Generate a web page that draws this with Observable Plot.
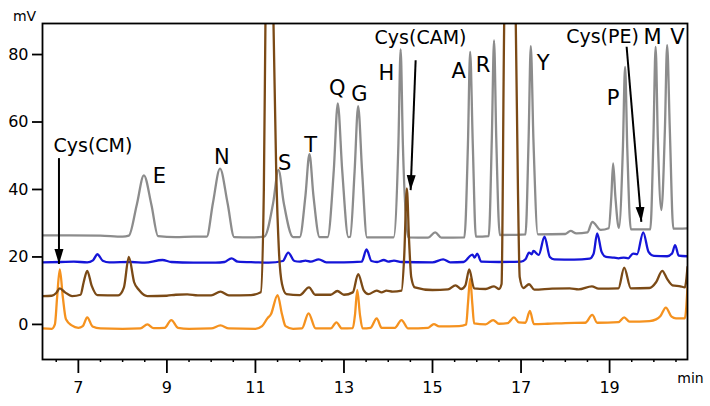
<!DOCTYPE html>
<html><head><meta charset="utf-8">
<script src="https://cdn.jsdelivr.net/npm/d3@7"></script>
<script src="https://cdn.jsdelivr.net/npm/@observablehq/plot@0.6"></script>
<style>body{margin:0;background:#fff}</style>
</head><body><div id="chart"></div>
<script>
// [time (min), signal (mV)]
const grayTrace = [
[6.19,26.4],[6.8,26.4],[7.5,26.3],[8.0,26.0],[8.14,26.3],[8.32,35.5],[8.48,44.2],[8.65,35.5],[8.8,26.2],
[9.2,25.9],[9.6,26.0],[9.9,26.0],[10.04,36.0],[10.2,46.2],[10.37,36.0],[10.52,25.9],[10.9,25.8],
[11.2,26.0],[11.4,36.0],[11.52,45.8],[11.64,36.0],[11.85,25.9],[12.0,25.9],[12.13,38.2],[12.22,50.5],
[12.31,38.2],[12.45,25.9],[12.63,25.9],[12.77,45.7],[12.86,65.5],[12.96,45.7],[13.1,25.9],[13.14,26.0],
[13.24,45.3],[13.32,64.7],[13.41,45.3],[13.52,25.8],[14.12,25.8],[14.23,53.7],[14.28,81.5],[14.33,53.7],
[14.45,25.8],[14.9,25.7],[15.06,27.3],[15.2,25.7],[15.72,25.8],[15.8,53.3],[15.85,80.8],[15.91,53.3],
[15.98,26.0],[16.27,26.2],[16.34,55.2],[16.39,84.2],[16.44,55.2],[16.52,26.5],[17.1,26.7],[17.17,54.6],
[17.22,82.5],[17.28,54.6],[17.38,26.7],[18.0,26.8],[18.12,27.7],[18.25,27.0],[18.5,27.3],[18.61,30.4],
[18.8,28.0],[18.98,28.5],[19.04,38],[19.08,47.7],[19.13,38],[19.21,28.6],[19.3,52],[19.35,76.3],[19.4,52],
[19.48,28.2],[19.92,28.2],[19.99,55],[20.04,82.3],[20.09,55],[20.17,33.9],[20.25,58],[20.3,82.8],[20.36,58],
[20.44,28.4],[20.76,28.5]
];
const blueTrace = [
[6.19,18.4],[6.6,18.5],[6.9,18.6],[7.2,18.4],[7.33,19.0],[7.43,20.8],[7.55,18.9],[7.7,18.4],[8.2,18.5],
[8.5,18.3],[8.9,19.1],[9.1,18.5],[9.6,18.3],[10.1,18.3],[10.3,18.5],[10.46,19.6],[10.6,18.6],[11.0,18.4],
[11.3,18.3],[11.62,18.8],[11.74,21.3],[11.88,18.8],[12.0,18.6],[12.13,18.9],[12.25,18.6],[12.43,19.3],
[12.6,18.4],[13.0,18.4],[13.4,18.6],[13.51,22.2],[13.62,18.8],[13.75,18.5],[13.9,19.1],[14.0,18.6],
[14.13,18.9],[14.3,18.5],[15.0,18.4],[15.24,19.3],[15.4,18.4],[15.7,18.5],[15.9,20.7],[15.95,19.8],
[16.01,21.0],[16.1,18.6],[16.5,18.5],[17.0,18.6],[17.1,19.3],[17.18,21.3],[17.24,20.8],[17.28,21.8],
[17.4,20.6],[17.53,26.0],[17.65,20.0],[17.75,19.3],[18.2,19.2],[18.55,19.5],[18.64,21],[18.72,27.0],
[18.82,21.5],[18.92,20.0],[19.1,19.8],[19.2,19.6],[19.32,19.8],[19.42,19.6],[19.53,21.0],[19.62,20.8],
[19.76,27.3],[19.88,21.5],[20.0,20.3],[20.3,20.2],[20.41,21],[20.48,23.5],[20.56,20.4],[20.76,20.2]
];
const brownTrace = [
[6.19,8.4],[6.4,8.5],[6.5,9.3],[6.58,10.7],[6.7,9.5],[6.86,8.4],[7.05,8.8],[7.12,12.5],[7.2,15.9],
[7.3,11.5],[7.43,8.7],[7.9,8.6],[8.03,11],[8.14,20.0],[8.26,12.5],[8.37,10.2],[8.56,8.4],[9.0,8.5],
[9.2,8.8],[9.46,8.9],[9.7,8.6],[10.0,8.6],[10.21,9.7],[10.4,8.6],[10.9,8.7],[11.12,9.5],[11.19,40],
[11.23,95],[11.31,140],[11.40,95],[11.47,45],[11.53,22],[11.6,12],[11.7,9],[12.0,8.7],[12.21,11.0],
[12.35,8.8],[12.7,8.8],[12.85,9.9],[13.0,8.8],[13.2,9.5],[13.32,14.9],[13.45,10.0],[13.55,9.0],
[13.74,10.0],[13.85,9.5],[13.96,10.0],[14.1,9.7],[14.3,10.0],[14.36,20],[14.42,40.3],[14.47,25],
[14.52,14],[14.6,11.0],[15.0,10.2],[15.35,10.4],[15.52,11.6],[15.65,10.5],[15.74,11.5],[15.83,16.3],
[15.94,10.7],[16.2,10.5],[16.39,11.3],[16.5,10.5],[16.56,12],[16.62,90],[16.74,140],[16.88,90],
[16.93,40],[16.97,14],[17.05,10.8],[17.18,11.9],[17.3,10.3],[17.7,10.6],[18.1,10.7],[18.3,10.4],
[18.6,11.3],[18.75,10.6],[19.2,10.7],[19.33,16.8],[19.48,10.7],[19.9,10.8],[20.05,12.5],[20.19,15.9],
[20.3,13.5],[20.42,11.6],[20.6,11.3],[20.7,11.0],[20.76,17]
];
const orangeTrace = [
[6.19,-1.2],[6.4,-1.3],[6.47,0],[6.52,8],[6.58,16.3],[6.65,8],[6.72,1.5],[6.85,-0.3],[7.0,-1.0],
[7.1,-0.5],[7.2,2.1],[7.32,-0.6],[7.5,-1.2],[8.0,-1.3],[8.4,-1.2],[8.56,0.0],[8.7,-1.1],[8.95,-1.0],
[9.1,1.3],[9.25,-1.0],[9.5,-1.3],[10.0,-1.2],[10.21,-0.3],[10.4,-1.2],[11.0,-1.3],[11.15,-0.5],
[11.27,1.8],[11.35,3],[11.5,8.7],[11.6,3],[11.68,-0.5],[11.85,-1.3],[12.05,-1.2],[12.2,3.3],[12.36,-1.2],
[12.7,-1.2],[12.83,0.6],[12.95,-1.2],[13.2,-1.1],[13.25,3],[13.3,10.2],[13.36,3],[13.42,-1.2],[13.6,-1.0],
[13.74,1.8],[13.85,-1.0],[14.15,-1.0],[14.3,1.3],[14.45,-1.2],[14.9,-1.0],[15.03,0.1],[15.15,-0.6],
[15.6,-0.5],[15.76,0],[15.8,6],[15.85,13.6],[15.9,6],[15.94,0.3],[16.2,0.0],[16.37,1.3],[16.5,0.2],
[16.7,0.4],[16.84,2.1],[16.95,0.6],[17.1,0.5],[17.2,4.0],[17.29,0.1],[17.6,0.2],[18.0,0.4],[18.45,0.5],
[18.61,2.8],[18.72,0.5],[19.2,0.7],[19.33,2.1],[19.45,0.8],[19.9,1.0],[20.05,1.5],[20.15,2.5],[20.27,5.0],
[20.4,2.3],[20.5,1.8],[20.7,1.8],[20.76,11]
];

const peakNames = ["E","N","S","T","Q","G","H","A","R","Y","P","M","V"];
const peakNameTime = [8.83,10.24,11.66,12.25,12.85,13.35,13.96,15.59,16.14,17.5,19.08,19.97,20.53];
const peakNameMv = [43.9,49.6,47.8,53.2,69.9,68.2,74.5,75.1,76.8,77.4,67.1,85.1,85.1];

const cysNames = ["Cys(CM)","Cys(CAM)","Cys(PE)"];
const cysTime = [7.33,14.73,18.84];
const cysMv = [52.8,84.8,85.1];
const arrowTime1 = [6.562,14.619,19.385];
const arrowMv1 = [49.3,78.3,82.3];
const arrowTime2 = [6.562,14.506,19.717];
const arrowMv2 = [17.9,39.8,30.4];

const majorTicksX = [7,9,11,13,15,17,19];
const minorTicksX = [6.5,7.5,8,8.5,9.5,10,10.5,11.5,12,12.5,13.5,14,14.5,15.5,16,16.5,17.5,18,18.5,19.5,20,20.5];
const ticksY = [0,20,40,60,80];

const idx = peakNames.map((_, i) => i);
const cidx = cysNames.map((_, i) => i);
const line = (data, color) => Plot.line(data, {x: d => d[0], y: d => d[1], stroke: color, strokeWidth: 2.3, curve: "monotone-x", clip: true});

const chart = Plot.plot({
  width: 710, height: 406,
  marginLeft: 42, marginRight: 23, marginTop: 23, marginBottom: 47,
  x: {domain: [6.19, 20.76]},
  y: {domain: [-10.4, 89.2]},
  style: {fontFamily: "'DejaVu Sans', sans-serif", fontSize: "16px", color: "black", background: "white"},
  marks: [
    line(grayTrace, "#8c8c8c"),
    line(blueTrace, "#1515d8"),
    line(orangeTrace, "#f5921f"),
    line(brownTrace, "#7b4a16"),
    Plot.frame({stroke: "black", strokeWidth: 1.8}),
    Plot.axisY({ticks: ticksY, tickSize: 10, tickPadding: 4, label: null, strokeWidth: 1.8}),
    Plot.axisX({ticks: majorTicksX, tickSize: 14, tickPadding: 8, label: null, strokeWidth: 1.8}),
    Plot.axisX({ticks: minorTicksX, tickSize: 3, tickFormat: () => "", label: null, strokeWidth: 1.5}),
    Plot.text(idx, {x: i => peakNameTime[i], y: i => peakNameMv[i], text: i => peakNames[i], fontSize: 21, fill: "black"}),
    Plot.text(cidx, {x: i => cysTime[i], y: i => cysMv[i], text: i => cysNames[i], fontSize: 19, fill: "black"}),
    Plot.link(cidx, {x1: i => arrowTime1[i], y1: i => arrowMv1[i], x2: i => arrowTime2[i], y2: i => arrowMv2[i], stroke: "black", strokeWidth: 2, markerEnd: "arrow"}),
    Plot.text(["mV"], {text: d => d, frameAnchor: "top-left", textAnchor: "middle", lineAnchor: "middle", dx: -18, dy: -7, fontSize: 14, fill: "black"}),
    Plot.text(["min"], {text: d => d, frameAnchor: "bottom-right", textAnchor: "middle", lineAnchor: "middle", dx: 3, dy: 19, fontSize: 14, fill: "black"})
  ]
});

d3.select(chart).selectAll("marker")
  .attr("viewBox", "-15 -6 16 12")
  .attr("markerUnits", "userSpaceOnUse")
  .attr("markerWidth", 16).attr("markerHeight", 12)
  .attr("refX", 0).attr("refY", 0)
  .attr("fill", "black").attr("stroke", "none")
  .selectAll("path").attr("d", "M-15,-4.5L0,0L-15,4.5Z");

document.getElementById("chart").appendChild(chart);
</script>
</body></html>
